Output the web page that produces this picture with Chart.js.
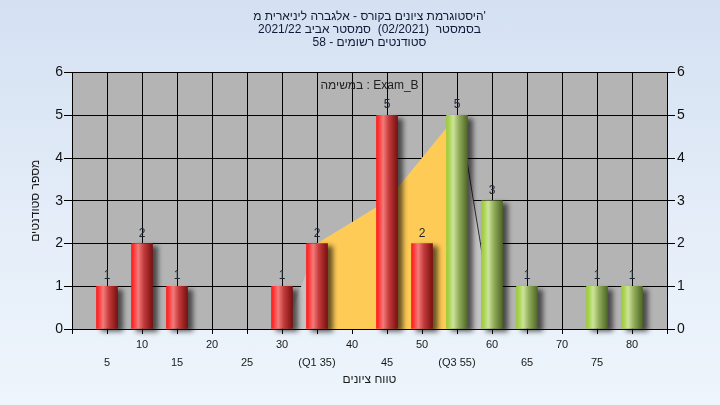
<!DOCTYPE html>
<html>
<head>
<meta charset="utf-8">
<script src="https://cdn.jsdelivr.net/npm/chart.js@4/dist/chart.umd.min.js"></script>
<style>
  html, body { margin: 0; padding: 0; }
  body {
    width: 720px; height: 405px; overflow: hidden;
    background: linear-gradient(180deg, #d4e1f2 0%, #e3ecf8 50%, #eef5fc 100%);
  }
  canvas { display: block; }
</style>
</head>
<body>
<canvas id="chart" width="720" height="405"></canvas>
<script>
// Grade histogram data
const gradeBins     = [5, 10, 15, 20, 25, 30, 35, 40, 45, 50, 55, 60, 65, 70, 75, 80];
const studentCounts = [1, 2, 1, 0, 0, 1, 2, 0, 5, 2, 5, 3, 1, 0, 1, 1];
const binLabels     = ['5', '10', '15', '20', '25', '30', '(Q1 35)', '40', '45', '50', '(Q3 55)', '60', '65', '70', '75', '80'];
const countTicks    = [0, 1, 2, 3, 4, 5, 6];

// Interquartile band (Q1..Q3) and the wider spread band behind it
const iqrX    = [35, 40, 45, 50, 55];
const iqrY    = [2, 2.5, 3, 4, 5];
const spreadX = [30.5, 35, 40, 45, 50, 55, 56.5, 60.35];
const spreadY = [0, 2, 2.5, 3, 4, 5, 3.85, 0];

const passFrom = 55;

const titleLines = [
  "היסטוגרמת ציונים בקורס - אלגברה ליניארית מ'",
  "בסמסטר  (02/2021)  סמסטר אביב 2021/22",
  "סטודנטים רשומים - 58"
];
const taskLabel = 'במשימה : Exam_B';
const xTitle = 'טווח ציונים';
const yTitle = 'מספר סטודנטים';

Chart.defaults.font.family = '"Liberation Sans", Arial, sans-serif';
Chart.defaults.color = '#111';

const BAR_W = 21;

function barGradient(ctx) {
  const chart = ctx.chart;
  const xs = chart.scales && chart.scales.x;
  const v = ctx.raw && ctx.raw.x;
  const base = v >= passFrom ? '#a6cf4c' : '#e03030';
  if (ctx.type !== 'data' || !xs) return base;
  const px = xs.getPixelForValue(v);
  if (!isFinite(px)) return base;
  const g = chart.ctx.createLinearGradient(px - BAR_W / 2, 0, px + BAR_W / 2, 0);
  if (v >= passFrom) {
    g.addColorStop(0.00, '#9ccb3a');
    g.addColorStop(0.12, '#a9d44f');
    g.addColorStop(0.32, '#cde39c');
    g.addColorStop(0.58, '#93af5c');
    g.addColorStop(1.00, '#4f6726');
  } else {
    g.addColorStop(0.00, '#ff1a1a');
    g.addColorStop(0.12, '#ff3a3a');
    g.addColorStop(0.32, '#f27b7b');
    g.addColorStop(0.58, '#c53c3c');
    g.addColorStop(1.00, '#7a1010');
  }
  return g;
}

const plotBackground = {
  id: 'plotBackground',
  beforeDraw(chart) {
    const { ctx, chartArea: a } = chart;
    ctx.save();
    ctx.fillStyle = '#b4b4b4';
    ctx.fillRect(a.left, a.top, a.right - a.left, a.bottom - a.top);
    ctx.restore();
  }
};

const barShadow = {
  id: 'barShadow',
  beforeDatasetDraw(chart, args) {
    if (args.index !== 0) return;
    const ctx = chart.ctx;
    ctx.save();
    ctx.shadowColor = 'rgba(0,0,0,0.6)';
    ctx.shadowBlur = 5;
    ctx.shadowOffsetX = 5;
    ctx.shadowOffsetY = 3;
  },
  afterDatasetDraw(chart, args) {
    if (args.index !== 0) return;
    chart.ctx.restore();
  }
};

const barValues = {
  id: 'barValues',
  afterDatasetsDraw(chart) {
    const ctx = chart.ctx;
    const meta = chart.getDatasetMeta(0);
    ctx.save();
    ctx.font = '12px "Liberation Sans", Arial, sans-serif';
    ctx.fillStyle = '#1c2634';
    ctx.textAlign = 'center';
    ctx.textBaseline = 'alphabetic';
    meta.data.forEach((el, i) => {
      const v = studentCounts[i];
      if (!v) return;
      ctx.fillText(String(v), el.x, el.y - 7);
    });
    // task caption inside the plot
    const a = chart.chartArea;
    ctx.fillStyle = '#222';
    ctx.textBaseline = 'middle';
    ctx.fillText(taskLabel, (a.left + a.right) / 2, a.top + 13);
    ctx.restore();
  }
};

new Chart(document.getElementById('chart'), {
  type: 'bar',
  data: {
    datasets: [
      {
        type: 'bar',
        data: gradeBins.map((g, i) => ({ x: g, y: studentCounts[i] || null })),
        backgroundColor: barGradient,
        borderWidth: 0,
        barThickness: BAR_W,
        clip: false,
        order: 0
      },
      {
        type: 'line',
        data: iqrX.map((x, i) => ({ x, y: iqrY[i] })),
        borderWidth: 0,
        borderColor: 'rgba(0,0,0,0)',
        backgroundColor: '#ffcb57',
        fill: 'origin',
        pointRadius: 0,
        tension: 0,
        order: 1
      },
      {
        type: 'line',
        data: spreadX.map((x, i) => ({ x, y: spreadY[i] })),
        borderWidth: 1,
        borderColor: 'rgba(0,0,0,0)',
        segment: {
          borderColor: c => (c.p0.parsed.x >= passFrom ? '#2e2e2e' : 'rgba(0,0,0,0)')
        },
        backgroundColor: '#c4c4c4',
        fill: 'origin',
        pointRadius: 0,
        tension: 0,
        order: 2
      }
    ]
  },
  options: {
    responsive: false,
    animation: false,
    devicePixelRatio: 1,
    layout: { padding: 0 },
    plugins: {
      legend: { display: false },
      tooltip: { enabled: false },
      title: {
        display: true,
        fullSize: false,
        // first line keeps the document direction; the others are set right-to-left
        text: titleLines.map((t, i) => (i === 0 ? t : '\u202B' + t + '\u202C')),
        color: '#111836',
        font: { size: 12, weight: 'normal', lineHeight: 13 / 12 },
        padding: { top: 10.5, bottom: 23 }
      }
    },
    scales: {
      x: {
        type: 'linear',
        min: 0,
        max: 85,
        offset: false,
        afterBuildTicks: s => { s.ticks = [0, ...gradeBins, 85].map(v => ({ value: v })); },
        afterFit: s => { s.height = 76; },
        ticks: {
          autoSkip: false,
          maxRotation: 0,
          minRotation: 0,
          padding: 2,
          color: '#1a1a1a',
          font: { size: 11, lineHeight: 18 / 11 },
          callback: v => {
            const i = gradeBins.indexOf(v);
            if (i < 0) return '';
            return i % 2 === 0 ? ['', binLabels[i]] : [binLabels[i], ''];
          }
        },
        grid: { color: '#000', lineWidth: 1, tickLength: 5, offset: false },
        border: { color: '#000' },
        title: {
          display: true,
          text: xTitle,
          color: '#1a1a1a',
          font: { size: 12 },
          padding: { top: 0, bottom: 18 }
        }
      },
      y: {
        position: 'left',
        min: 0,
        max: 6,
        afterBuildTicks: s => { s.ticks = countTicks.map(v => ({ value: v })); },
        afterFit: s => { s.width = 72; },
        ticks: { color: '#111', font: { size: 14 }, padding: 1 },
        grid: { color: '#000', lineWidth: 1, tickLength: 8 },
        border: { color: '#000' },
        title: {
          display: true,
          text: yTitle,
          color: '#1a1a1a',
          font: { size: 12 },
          padding: { top: 28, bottom: 0 }
        }
      },
      y2: {
        position: 'right',
        min: 0,
        max: 6,
        afterBuildTicks: s => { s.ticks = countTicks.map(v => ({ value: v })); },
        afterFit: s => { s.width = 53; },
        ticks: { color: '#111', font: { size: 14 }, padding: 2 },
        grid: { color: '#000', lineWidth: 1, tickLength: 8, drawOnChartArea: false },
        border: { color: '#000' }
      }
    }
  },
  plugins: [plotBackground, barShadow, barValues]
});
</script>
</body>
</html>
